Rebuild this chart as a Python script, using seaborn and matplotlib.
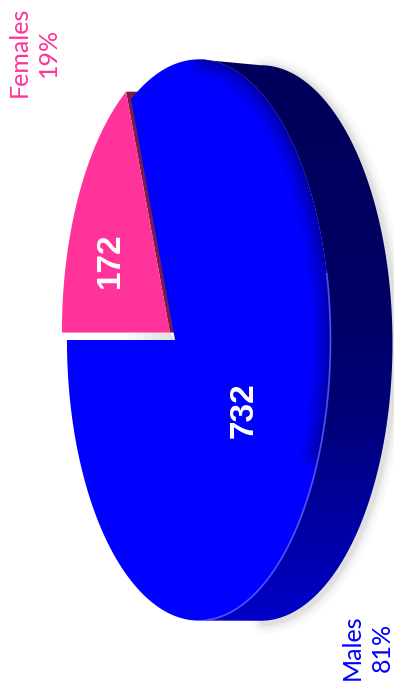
import numpy as np
import matplotlib
matplotlib.use("Agg")
import matplotlib.pyplot as plt
import seaborn as sns
from matplotlib.patches import Polygon
from matplotlib.colors import LinearSegmentedColormap

# ---- data -------------------------------------------------------------
groups = ["Females", "Males"]
counts = [172, 732]
face_colors = ["#FF3399", "#0000FF"]
wall_colors = ["#7A1A4A", "#000066"]

sns.set_theme(style="white")
plt.rcParams["font.family"] = ["Lato", "DejaVu Sans"]

W, H = 394, 689
fig = plt.figure(figsize=(W / 100, H / 100), dpi=100)
ax = fig.add_axes([0, 0, 1, 1])
ax.set_xlim(0, W)
ax.set_ylim(H, 0)
ax.axis("off")

# ---- disc geometry (perspective view, lying on its side) ---------------
CX, CY = 175.0, 340.0
RX, RY = 96.0, 276.0
PERSP = -0.18
DEPTH = 62.0
BACK_DY = 3.0
BACK_SY = 0.99
EXPLODE = 9.0


def rim(phi, r=1.0, back=False):
    u = r * np.cos(phi)
    v = r * np.sin(phi)
    den = 1 + PERSP * u
    x = (CX + RX * u) / den
    y = CY + RY * v / den
    if back:
        x = x + DEPTH
        y = CY + (y - CY) * BACK_SY + BACK_DY
    return np.asarray(x, float), np.asarray(y, float)


total = float(sum(counts))
fracs = [c / total for c in counts]
starts = np.pi + 2 * np.pi * np.concatenate([[0], np.cumsum(fracs)[:-1]])
ends = starts + 2 * np.pi * np.array(fracs)

# outline extremes of the face rim
phis = np.linspace(-np.pi, np.pi, 3601)
fx, fy = rim(phis)
phi_top = phis[np.argmin(fy)]
phi_bot = phis[np.argmax(fy)]
side_phi = np.linspace(phi_top, phi_bot, 400)

# drop shadow around the outer edge
bx, by = rim(side_phi, back=True)
for lw, a in [(16, 0.035), (11, 0.05), (7, 0.07), (4, 0.09)]:
    ax.plot(bx + 2, by + 2, color="#808080", lw=lw, alpha=a,
            solid_capstyle="round", zorder=1)

# side wall with vertical shading
sx1, sy1 = rim(side_phi)
sx2, sy2 = rim(side_phi[::-1], back=True)
side_poly = Polygon(np.column_stack([np.r_[sx1, sx2], np.r_[sy1, sy2]]),
                    closed=True, fc="none", ec="none", zorder=2)
ax.add_patch(side_poly)
side_cmap = LinearSegmentedColormap.from_list(
    "side", [(0.0, "#00005C"), (0.35, "#000064"), (0.58, "#000078"),
             (0.78, "#0000A0"), (1.0, "#0000CC")])
yy = np.linspace(0, H, 600)
grad = np.clip((yy - 120) / (630 - 120), 0, 1)[:, None] * np.ones((1, 2))
im = ax.imshow(grad, extent=[0, W, H, 0], cmap=side_cmap, vmin=0, vmax=1,
               aspect="auto", zorder=2, interpolation="bilinear")
im.set_clip_path(side_poly)

# explosion offset for the smaller slice, along its bisector
mid = 0.5 * (starts[0] + ends[0])
mx, my = rim(mid)
dvec = np.array([mx - CX, my - CY])
dvec = dvec / np.hypot(*dvec) * EXPLODE

# pale gap between the separated slices
gx0, gy0 = rim(starts[0])
gap = Polygon([[CX, CY], [float(gx0), float(gy0)],
               [float(gx0) + dvec[0], float(gy0) + dvec[1]],
               [CX + dvec[0], CY + dvec[1]]], closed=True,
              fc="none", ec="none", zorder=3)
ax.add_patch(gap)
gcm = LinearSegmentedColormap.from_list("gap", ["#FFFFFF", "#FFFFFF", "#DCDCDC"])
gim = ax.imshow(np.linspace(0, 1, 200)[None, :] * np.ones((2, 1)),
                extent=[60, 180, H, 0], cmap=gcm, aspect="auto", zorder=3)
gim.set_clip_path(gap)

# inner wall of the exploded slice
ex, ey = rim(ends[0])
wall = [[CX + dvec[0], CY + dvec[1]],
        [float(ex) + dvec[0], float(ey) + dvec[1]],
        [float(ex) + dvec[0] + DEPTH, float(ey) + dvec[1]],
        [CX + dvec[0] + DEPTH, CY + dvec[1]]]
ax.add_patch(Polygon(wall, closed=True, fc=wall_colors[0], ec="none", zorder=4))

# slice faces
face_patches = []
for i, (a0, a1) in enumerate(zip(starts, ends)):
    ph = np.linspace(a0, a1, 400)
    px, py = rim(ph)
    off = dvec if i == 0 else np.zeros(2)
    pts = np.column_stack([np.r_[CX, px, CX], np.r_[CY, py, CY]]) + off
    p = Polygon(pts, closed=True, fc=face_colors[i], ec="none",
                zorder=5 + i, antialiased=True)
    ax.add_patch(p)
    face_patches.append(p)

# soft shading where the face curves into the side (upper part)
ph = np.linspace(phi_top + 0.05, 0.35, 300)
for lw, a in [(26, 0.10), (18, 0.14), (11, 0.18), (5, 0.25)]:
    rx, ry = rim(ph)
    ln, = ax.plot(rx, ry, color="#000066", lw=lw, alpha=a, zorder=7,
                  solid_capstyle="round")
    ln.set_clip_path(face_patches[1])

# light edge along the lower rim
ph = np.linspace(-0.2, phi_bot - 0.05, 200)
rx, ry = rim(ph)
ax.plot(rx, ry, color="#5A5AFF", lw=1.3, alpha=0.8, zorder=7)

# value labels on the slices
ax.text(110, 260, str(counts[0]), rotation=90, color="white", fontsize=24,
        fontweight="bold", family=["Liberation Sans", "DejaVu Sans"],
        ha="center", va="center", zorder=9)
ax.text(244, 410, str(counts[1]), rotation=90, color="white", fontsize=24,
        fontweight="bold", family=["Liberation Sans", "DejaVu Sans"],
        ha="center", va="center", zorder=9)

# category labels with shares
pcts = [f"{round(f * 100)}%" for f in fracs]
ax.text(34, 52, f"{groups[0]}\n{pcts[0]}", rotation=90, color=face_colors[0],
        fontsize=18, ha="center", va="center", multialignment="center",
        linespacing=1.35, zorder=9)
ax.text(367, 647, f"{groups[1]}\n{pcts[1]}", rotation=90, color=face_colors[1],
        fontsize=18, ha="center", va="center", multialignment="center",
        linespacing=1.35, zorder=9)

fig.savefig("out.png", dpi=100, facecolor="white")
